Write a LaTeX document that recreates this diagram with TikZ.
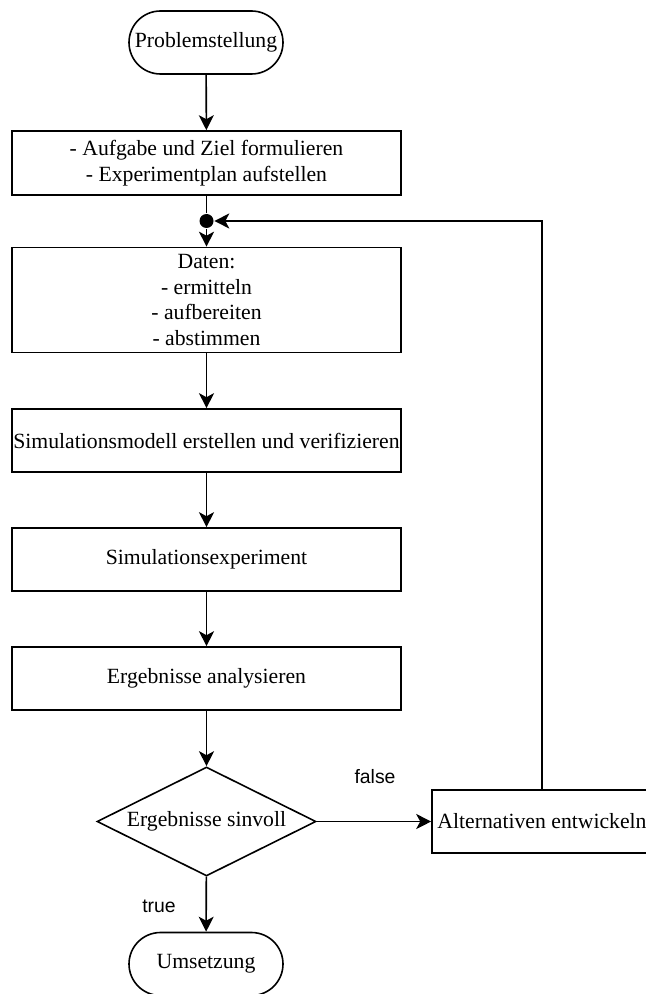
\documentclass[tikz,border=0pt]{standalone}
\usepackage{fontspec}
\setmainfont{Liberation Serif}
\newfontfamily\labelfont{Liberation Sans}
\usetikzlibrary{shapes.geometric, shapes.misc, arrows.meta, positioning}

\begin{document}
\begin{tikzpicture}[x=0.5pt, y=-0.5pt, line width=0.8pt,
  txt/.style={font=\fontsize{10.85}{12.7}\selectfont},
  procbox/.style={txt, draw, rectangle, align=center, inner sep=0pt,
    minimum width=194.5pt, minimum height=31.5pt},
  termbox/.style={txt, draw, rounded rectangle, inner sep=0pt,
    minimum width=77pt, minimum height=31.5pt},
  decision/.style={txt, draw, diamond, inner sep=0pt, shape aspect=2,
    minimum width=109.5pt, minimum height=54.5pt},
  flow/.style={-{Stealth[length=7.5pt, width=7.5pt, inset=2pt]}},
  branch/.style={font=\labelfont\fontsize{9.7}{11}\selectfont}]
\useasboundingbox (0,0) rectangle (646,994);

% Start
\node[termbox] (start) at (206,42.5) {Problemstellung};

% Planning
\node[procbox, minimum height=32pt] (plan) at (206.5,163)
  {- Aufgabe und Ziel formulieren\\- Experimentplan aufstellen};
\node[circle, fill, inner sep=0pt, minimum size=7pt] (join) at (206.5,221) {};

% Data and model
\node[procbox, minimum height=52.5pt] (data) at (206.5,300)
  {Daten:\\- ermitteln\\- aufbereiten\\- abstimmen};
\node[procbox] (model) at (206.5,440.5)
  {\makebox[190pt]{Simulationsmodell erstellen und verifizieren}};

% Experiment and analysis
\node[procbox] (exper) at (206.5,559.5) {Simulationsexperiment};
\node[procbox] (analysis) at (206.5,678.5) {Ergebnisse analysieren};

% Decision
\node[decision] (check) at (206.5,821.5) {Ergebnisse sinvoll};
\node[procbox, minimum width=110pt] (alt) at (542,821.5) {Alternativen entwickeln};
\node[termbox] (finish) at (206,964) {Umsetzung};

\node[branch] (lfalse) at (375,777) {false};
\node[branch] (ltrue) at (159,906) {true};

% Connectors
\draw[flow] (start) -- (plan);
\draw (plan) -- (join);
\draw[flow] (join) -- (data);
\draw[flow] (data) -- (model);
\draw[flow] (model) -- (exper);
\draw[flow] (exper) -- (analysis);
\draw[flow] (analysis) -- (check);
\draw[flow] (check) -- (alt);
\draw[flow] (check) -- (finish);
\draw[flow] (alt) |- (join);
\end{tikzpicture}
\end{document}
